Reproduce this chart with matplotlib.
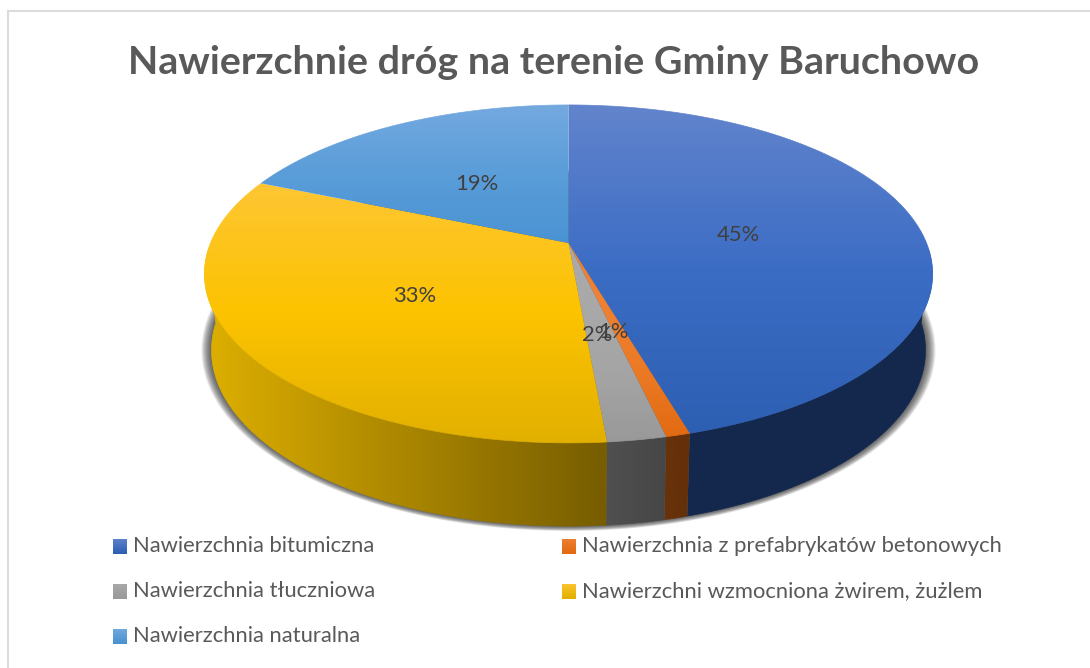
import numpy as np
import matplotlib
matplotlib.use("Agg")
import matplotlib.pyplot as plt
from matplotlib.collections import LineCollection
from matplotlib.colors import LinearSegmentedColormap
from matplotlib.patches import Polygon

TITLE = "Nawierzchnie dróg na terenie Gminy Baruchowo"
CATEGORIES = ["Nawierzchnia bitumiczna", "Nawierzchnia z prefabrykatów betonowych",
              "Nawierzchnia tłuczniowa", "Nawierzchni wzmocniona żwirem, żużlem",
              "Nawierzchnia naturalna"]
VALUES = [45.5, 0.9, 2.2, 32.8, 18.6]
PERCENT_LABELS = ["45%", "1%", "2%", "33%", "19%"]

# styling / layout (pixels)
LABEL_XY = [(738, 235), (613, 332), (597, 335), (415, 296), (477, 184)]
TOP_STOPS = [["#6284cc", "#3c6dc5", "#2d5fb3"],
             ["#ee8133", "#ec7a25", "#e26a12"],
             ["#a9a9a9", "#a5a5a5", "#999999"],
             ["#fec633", "#fcc300", "#e2b000"],
             ["#74a9df", "#5a9dd9", "#4a93d3"]]
SIDE_STOPS = [["#14284d", "#14294e"], ["#69320a", "#63300a"], ["#505050", "#464646"],
              ["#dcae00", "#775d00"], ["#3a6d9c", "#2c5c8a"]]
TOP_Y = [(105, 430), (300, 438), (300, 443), (184, 443), (105, 243)]
LEGEND_XY = [(113, 546), (562, 546), (113, 591), (562, 591), (113, 636)]

W, H = 1090, 668
CX, CY, A, B, K = 568.5, 243.0, 358.0, 163.3, 0.183
A2, B2, CY2 = 351.0, 170.0, 318.0

plt.rcParams["font.family"] = ["Lato", "DejaVu Sans"]
fig = plt.figure(figsize=(W / 100, H / 100), dpi=100, facecolor="white")
ax = fig.add_axes([0, 0, 1, 1])
ax.set_xlim(0, W)
ax.set_ylim(H, 0)
ax.axis("off")


def project(theta, a=A, b=B, cy=CY):
    u, v = np.sin(theta), -np.cos(theta)
    w = 1 - K * v
    return np.column_stack([CX + a * u / w, cy + b * v / w])


def gradient_fill(poly, colors, lo, hi, axis, zorder, outline=None):
    cmap = LinearSegmentedColormap.from_list("g", colors)
    idx = 1 if axis == "y" else 0
    xmin, ymin = poly.min(axis=0) - 2
    xmax, ymax = poly.max(axis=0) + 2
    if axis == "y":
        data = ((np.linspace(ymin, ymax, 256) - lo) / (hi - lo)).reshape(-1, 1)
    else:
        data = ((np.linspace(xmin, xmax, 256) - lo) / (hi - lo)).reshape(1, -1)
    im = ax.imshow(data, extent=(xmin, xmax, ymax, ymin), origin="upper", cmap=cmap,
                   vmin=0, vmax=1, aspect="auto", zorder=zorder, interpolation="bilinear")
    patch = Polygon(poly, closed=True, transform=ax.transData, fc="none", ec="none")
    ax.add_patch(patch)
    im.set_clip_path(patch)
    # thin arc in the local gradient colour softens the clipped curved edge
    if outline is not None:
        segs = np.stack([outline[:-1], outline[1:]], axis=1)
        pos = np.clip((segs[:, :, idx].mean(axis=1) - lo) / (hi - lo), 0, 1)
        ax.add_collection(LineCollection(segs, colors=cmap(pos), linewidths=0.5, zorder=zorder + 0.1))


# frame
ax.plot([7.5, 7.5, W], [H, 10.5, 10.5], color="#dcdcdc", lw=1.5, zorder=1, solid_joinstyle="miter")

# soft shadow around the lower rim
tt = np.linspace(0, 2 * np.pi, 400)
base = project(tt, a=A2, b=B2, cy=CY2)
c = np.array([CX, 345.0])
for g in np.linspace(1, 0, 14):
    d = base - c
    pts = c + d * np.array([1 + 10 * g / 357, 1 + 5 * g / 185])
    ax.add_patch(Polygon(pts, closed=True, fc="#303030", ec="none", alpha=0.09, zorder=2))

edges = np.concatenate([[0], np.cumsum(VALUES)]) / np.sum(VALUES) * 2 * np.pi

# sides (front part of the rim only)
FRONT_LO, FRONT_HI = np.deg2rad(92), np.deg2rad(268)
for i in range(len(VALUES)):
    a0, a1 = max(edges[i], FRONT_LO), min(edges[i + 1], FRONT_HI)
    if a1 <= a0:
        continue
    th = np.linspace(a0, a1, 200)
    low = project(th, a=A2, b=B2, cy=CY2)
    poly = np.vstack([project(th), low[::-1]])
    lo, hi = (211, 606) if i == 3 else (poly[:, 0].min(), poly[:, 0].max())
    gradient_fill(poly, SIDE_STOPS[i], lo, hi, "x", 3 + 0.2 * i, outline=low)

# top faces
for i in range(len(VALUES)):
    th = np.linspace(edges[i], edges[i + 1], max(3, int(VALUES[i] * 8)))
    rim = project(th)
    poly = np.vstack([[[CX, CY]], rim])
    gradient_fill(poly, TOP_STOPS[i], TOP_Y[i][0], TOP_Y[i][1], "y", 5, outline=rim)

# percent labels
for lab, (x, y) in zip(PERCENT_LABELS, LABEL_XY):
    ax.text(x, y, lab, ha="center", va="center", fontsize=15.8, color="#404040", zorder=7)

ax.text(553.5, 62, TITLE, ha="center", va="center", fontsize=28.4, fontweight="bold",
        color="#595959", zorder=7)

# legend
for cat, stops, (x, y) in zip(CATEGORIES, TOP_STOPS, LEGEND_XY):
    sq = np.array([[x, y - 7.5], [x + 14, y - 7.5], [x + 14, y + 7.5], [x, y + 7.5]], float)
    gradient_fill(sq, [stops[0], stops[2]], y - 7.5, y + 7.5, "y", 6)
    ax.text(x + 20, y, cat, ha="left", va="center", fontsize=15.85, color="#595959", zorder=7)

ax.set_xlim(0, W)
ax.set_ylim(H, 0)
fig.savefig("out.png", dpi=100)
